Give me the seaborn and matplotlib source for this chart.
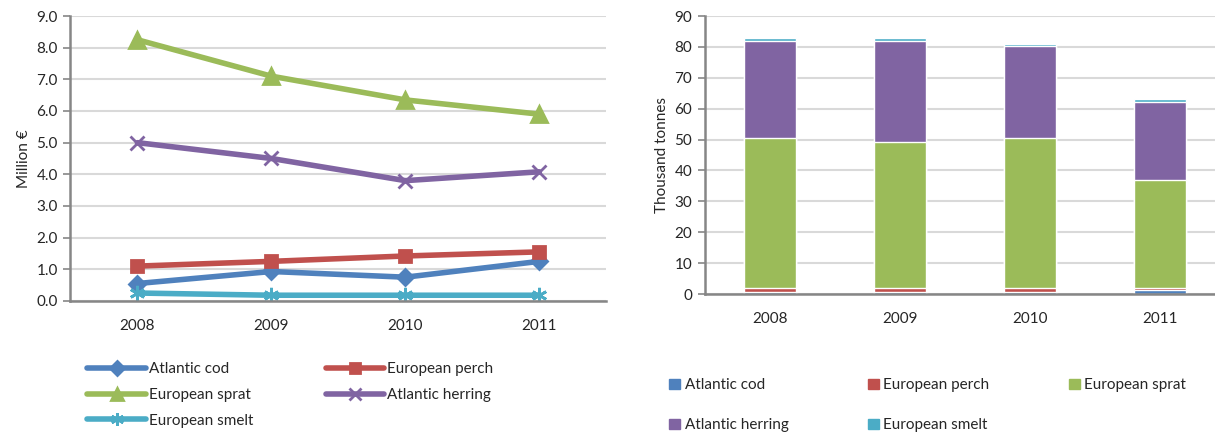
import numpy as np
import pandas as pd
import matplotlib
matplotlib.use('Agg')
import matplotlib.pyplot as plt
import seaborn as sns
from matplotlib.lines import Line2D
from matplotlib.patches import Patch

years = ['2008', '2009', '2010', '2011']
species = ['Atlantic cod', 'European perch', 'European sprat', 'Atlantic herring', 'European smelt']
colors = ['#4f81bd', '#c0504d', '#9bbb59', '#8064a2', '#4bacc6']
markers = ['D', 's', '^', 'x', (6, 2, 0)]
msizes = [8, 9, 11, 10, 11]

# value of landings, million euro
value_cod = [0.55, 0.93, 0.75, 1.25]
value_perch = [1.10, 1.25, 1.42, 1.55]
value_sprat = [8.25, 7.10, 6.35, 5.90]
value_herring = [5.00, 4.50, 3.80, 4.08]
value_smelt = [0.25, 0.18, 0.18, 0.18]

# landings, thousand tonnes
tonnes_cod = [0.5, 0.5, 0.5, 1.2]
tonnes_perch = [1.5, 1.5, 1.5, 0.6]
tonnes_sprat = [48.5, 47.2, 48.5, 35.2]
tonnes_herring = [31.5, 32.8, 29.7, 25.2]
tonnes_smelt = [0.8, 0.8, 0.8, 0.8]

values = [value_cod, value_perch, value_sprat, value_herring, value_smelt]
tonnes = [tonnes_cod, tonnes_perch, tonnes_sprat, tonnes_herring, tonnes_smelt]

sns.set_style('white')
plt.rcParams['font.family'] = ['Lato', 'DejaVu Sans']
plt.rcParams['font.size'] = 11

fig = plt.figure(figsize=(12.15, 4.33), dpi=100)
ax1 = fig.add_axes([0.058, 0.305, 0.441, 0.658])
ax2 = fig.add_axes([0.580, 0.321, 0.428, 0.642])

grid_col = '#d9d9d9'
spine_col = '#868686'

# ---- left: value line chart
for i, sp in enumerate(species):
    df = pd.DataFrame({'year': years, 'val': values[i]})
    sns.lineplot(data=df, x='year', y='val', ax=ax1, color=colors[i], lw=4,
                 marker=markers[i], markersize=msizes[i], markeredgewidth=2,
                 markeredgecolor=colors[i], sort=False)
ax1.set_xlim(-0.5, 3.5)
ax1.set_ylim(0, 9)
ax1.set_yticks(np.arange(0, 9.1, 1))
ax1.set_yticklabels([f'{v:.1f}' for v in np.arange(0, 9.1, 1)])
ax1.set_ylabel('Million €', fontsize=11)
ax1.set_xlabel('')

# ---- right: stacked bars, drawn from top layer down
cum = np.cumsum(np.array(tonnes), axis=0)
for i in range(len(species) - 1, -1, -1):
    df = pd.DataFrame({'year': years, 'top': cum[i]})
    sns.barplot(data=df, x='year', y='top', ax=ax2, color=colors[i],
                width=0.4, saturation=1, errorbar=None)
ax2.set_xlim(-0.5, 3.5)
ax2.set_ylim(0, 90)
ax2.set_yticks(np.arange(0, 91, 10))
ax2.set_ylabel('Thousand tonnes', fontsize=11)
ax2.set_xlabel('')

for ax in (ax1, ax2):
    ax.set_axisbelow(True)
    ax.yaxis.grid(True, color=grid_col, lw=1.5)
    ax.xaxis.grid(False)
    for s in ('top', 'right'):
        ax.spines[s].set_visible(False)
    for s in ('left', 'bottom'):
        ax.spines[s].set_color(spine_col)
        ax.spines[s].set_linewidth(1.8)
    ax.set_xticks([-0.5, 0.5, 1.5, 2.5, 3.5], minor=True)
    ax.tick_params(axis='x', which='major', length=0, pad=13, labelsize=11)
    ax.tick_params(axis='x', which='minor', length=5, width=1.2, color=spine_col, direction='out')
    ax.tick_params(axis='y', length=5, width=1.2, color=spine_col, direction='out', left=True,
                   labelsize=11, pad=4)

# legends (handles reordered so entries read row by row)
order1 = [0, 2, 4, 1, 3]
h1 = [Line2D([], [], color=colors[i], lw=4, marker=markers[i], markersize=msizes[i] * 0.85,
             markeredgewidth=2, markeredgecolor=colors[i]) for i in order1]
fig.legend(h1, [species[i] for i in order1], loc='upper left', bbox_to_anchor=(0.072, 0.164),
           ncol=2, frameon=False, handlelength=3.8, handletextpad=0.2, columnspacing=4.8,
           labelspacing=0.78, fontsize=11, borderaxespad=0, borderpad=0)

order2 = [0, 3, 1, 4, 2]
h2 = [Patch(color=colors[i]) for i in order2]
fig.legend(h2, [species[i] for i in order2], loc='upper left', bbox_to_anchor=(0.551, 0.126),
           ncol=3, frameon=False, handlelength=0.7, handleheight=0.7, handletextpad=0.3,
           columnspacing=5.2, labelspacing=1.69, fontsize=11, borderaxespad=0, borderpad=0)

fig.savefig('out.png', dpi=100)
